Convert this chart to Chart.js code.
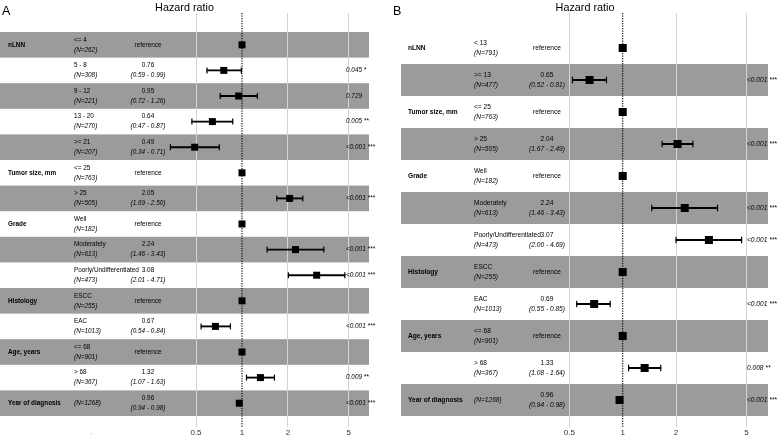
<!DOCTYPE html>
<html>
<head>
<meta charset="utf-8">
<script src="https://cdn.jsdelivr.net/npm/chart.js@4.4.1/dist/chart.umd.min.js"></script>
<style>
  body { margin: 0; background: #fff; width: 778px; height: 444px; overflow: hidden; position: relative; }
  canvas { position: absolute; top: 0; }
  #chartA { left: 0; }
  #chartB { left: 390px; }
</style>
</head>
<body>
<canvas id="chartA" width="389" height="444"></canvas>
<canvas id="chartB" width="388" height="444"></canvas>
<script>
/* ── Panel A data ── */
const aVars   = ['nLNN', '', '', '', '', 'Tumor size, mm', '', 'Grade', '', '', 'Histology', '', 'Age, years', '', 'Year of diagnosis'];
const aLevels = ['<= 4', '5 - 8', '9 - 12', '13 - 20', '>= 21', '<= 25', '> 25', 'Well', 'Moderately', 'Poorly/Undifferentiated', 'ESCC', 'EAC', '<= 68', '> 68', ''];
const aN      = [262, 308, 221, 270, 207, 763, 505, 182, 613, 473, 255, 1013, 901, 367, 1268];
const aHR     = [1, 0.76, 0.95, 0.64, 0.49, 1, 2.05, 1, 2.24, 3.08, 1, 0.67, 1, 1.32, 0.96];
const aLow    = [null, 0.59, 0.72, 0.47, 0.34, null, 1.69, null, 1.46, 2.01, null, 0.54, null, 1.07, 0.94];
const aHigh   = [null, 0.99, 1.26, 0.87, 0.71, null, 2.50, null, 3.43, 4.71, null, 0.84, null, 1.63, 0.98];
const aP      = ['', '0.045 *', '0.729', '0.005 **', '<0.001 ***', '', '<0.001 ***', '', '<0.001 ***', '<0.001 ***', '', '<0.001 ***', '', '0.009 **', '<0.001 ***'];

/* ── Panel B data ── */
const bVars   = ['nLNN', '', 'Tumor size, mm', '', 'Grade', '', '', 'Histology', '', 'Age, years', '', 'Year of diagnosis'];
const bLevels = ['< 13', '>= 13', '<= 25', '> 25', 'Well', 'Moderately', 'Poorly/Undifferentiated', 'ESCC', 'EAC', '<= 68', '> 68', ''];
const bN      = [791, 477, 763, 505, 182, 613, 473, 255, 1013, 901, 367, 1268];
const bHR     = [1, 0.65, 1, 2.04, 1, 2.24, 3.07, 1, 0.69, 1, 1.33, 0.96];
const bLow    = [null, 0.52, null, 1.67, null, 1.46, 2.00, null, 0.55, null, 1.08, 0.94];
const bHigh   = [null, 0.81, null, 2.49, null, 3.43, 4.69, null, 0.85, null, 1.64, 0.98];
const bP      = ['', '<0.001 ***', '', '<0.001 ***', '', '<0.001 ***', '<0.001 ***', '', '<0.001 ***', '', '0.008 **', '<0.001 ***'];

/* ── Axis ticks ── */
const xTicks = [0.5, 1, 2, 5];

const FAMILY   = '"Liberation Sans", Arial, Helvetica, sans-serif';
const BAND     = '#9b9b9b';
const PLOT_TOP = 13;
const PLOT_BOT = 427;

/* ── Build one forest panel ── */
function makeForest(cfg) {
  const canvas = document.getElementById(cfg.id);
  const W = canvas.width;
  const rows = cfg.hr.length;

  // scale limits so the log axis lands where the reference puts it
  const xMin = Math.pow(10, -cfg.one / cfg.decade);
  const xMax = Math.pow(10, (W - cfg.one) / cfg.decade);
  const yMin = -0.5 - (cfg.rowTop - PLOT_TOP) / cfg.rowH;
  const yMax = (PLOT_BOT - cfg.rowTop) / cfg.rowH - 0.5;

  const ci = [], caps = [], pts = [];
  cfg.hr.forEach((v, i) => {
    pts.push({ x: v, y: i });
    if (cfg.low[i] != null) {
      ci.push({ x: [cfg.low[i], cfg.high[i]], y: i });
      caps.push({ x: cfg.low[i], y: i }, { x: cfg.high[i], y: i });
    }
  });

  const f = (style) => `${style ? style + ' ' : ''}${cfg.font}px ${FAMILY}`;

  const forestPlugin = {
    id: 'forest' + cfg.letter,
    beforeDraw(chart) {
      const { ctx } = chart;
      const y = chart.scales.y;
      const h = Math.abs(y.getPixelForValue(1) - y.getPixelForValue(0));
      ctx.save();
      ctx.fillStyle = BAND;
      for (let i = 0; i < rows; i++) {
        const shaded = cfg.shadeOdd ? i % 2 === 1 : i % 2 === 0;
        if (!shaded) continue;
        const c = y.getPixelForValue(i);
        ctx.fillRect(cfg.band[0], c - h / 2, cfg.band[1] - cfg.band[0], h);
      }
      ctx.restore();
    },
    beforeDatasetsDraw(chart) {
      const { ctx, chartArea } = chart;
      const x = chart.scales.x, y = chart.scales.y;
      const cols = cfg.cols;

      // dotted reference line at HR = 1
      const x1 = x.getPixelForValue(1);
      ctx.save();
      ctx.strokeStyle = '#000';
      ctx.lineWidth = 1.1;
      ctx.setLineDash([1.2, 1.3]);
      ctx.beginPath();
      ctx.moveTo(x1, chartArea.top);
      ctx.lineTo(x1, chartArea.bottom);
      ctx.stroke();
      ctx.restore();

      ctx.save();
      ctx.fillStyle = '#000';
      ctx.textBaseline = 'middle';
      for (let i = 0; i < rows; i++) {
        const c = y.getPixelForValue(i);
        ctx.textAlign = 'left';
        if (cfg.vars[i]) {
          ctx.font = f('bold');
          ctx.fillText(cfg.vars[i], cols.name, c);
        }
        const nTxt = `(N=${cfg.n[i]})`;
        if (cfg.levels[i]) {
          ctx.font = f('');
          ctx.fillText(cfg.levels[i], cols.level, c - 5);
          ctx.font = f('italic');
          ctx.fillText(nTxt, cols.level, c + 5);
        } else {
          ctx.font = f('italic');
          ctx.fillText(nTxt, cols.level, c);
        }
        ctx.textAlign = 'center';
        if (cfg.low[i] == null) {
          ctx.font = f('');
          ctx.fillText('reference', cols.est, c);
        } else {
          ctx.font = f('');
          ctx.fillText(cfg.hr[i].toFixed(2), cols.est, c - 5);
          ctx.font = f('italic');
          ctx.fillText(`(${cfg.low[i].toFixed(2)} - ${cfg.high[i].toFixed(2)})`, cols.est, c + 5);
        }
        if (cfg.p[i]) {
          ctx.textAlign = 'left';
          ctx.font = f('italic');
          ctx.fillText(cfg.p[i], cols.p, c);
        }
      }
      ctx.restore();
    },
    afterDraw(chart) {
      const { ctx } = chart;
      ctx.save();
      ctx.fillStyle = '#000';
      ctx.textBaseline = 'alphabetic';
      ctx.font = `12.5px ${FAMILY}`;
      ctx.textAlign = 'left';
      ctx.fillText(cfg.letter, cfg.letterX, 14.5);
      ctx.font = `10.8px ${FAMILY}`;
      ctx.textAlign = 'center';
      ctx.fillText('Hazard ratio', cfg.titleX, 11);
      if (cfg.stray) {
        ctx.fillStyle = '#888';
        ctx.font = `6px ${FAMILY}`;
        ctx.fillText("'", cfg.stray[0], cfg.stray[1]);
      }
      ctx.restore();
    }
  };

  return new Chart(canvas.getContext('2d'), {
    type: 'scatter',
    data: {
      datasets: [
        {
          type: 'bar', indexAxis: 'y', data: ci,
          backgroundColor: '#000', borderWidth: 0, barThickness: 1.2, order: 3
        },
        {
          type: 'scatter', data: caps, pointStyle: 'line', rotation: 90,
          radius: cfg.cap, borderColor: '#000', borderWidth: 1.2, order: 2
        },
        {
          type: 'scatter', data: pts, pointStyle: 'rect',
          radius: cfg.pt, backgroundColor: '#000', borderWidth: 0, order: 1
        }
      ]
    },
    options: {
      responsive: false,
      animation: false,
      events: [],
      layout: { autoPadding: false, padding: { top: PLOT_TOP, left: 0, right: 0, bottom: 0 } },
      plugins: { legend: { display: false }, tooltip: { enabled: false } },
      scales: {
        x: {
          type: 'logarithmic',
          min: xMin, max: xMax, bounds: 'data', offset: false,
          afterBuildTicks: s => { s.ticks = xTicks.map(v => ({ value: v })); },
          afterFit: s => { s.height = 444 - PLOT_BOT; },
          border: { display: false },
          grid: {
            offset: false,
            drawTicks: false,
            lineWidth: 1,
            color: c => (c.tick && c.tick.value === 1) ? 'rgba(0,0,0,0)' : '#d3d3d3'
          },
          ticks: {
            padding: 1,
            color: '#333',
            font: { family: FAMILY, size: 8 },
            maxRotation: 0,
            autoSkip: false,
            callback: v => String(v)
          }
        },
        y: {
          type: 'linear', display: false, reverse: true, offset: false,
          grid: { offset: false },
          min: yMin, max: yMax, bounds: 'data'
        }
      }
    },
    plugins: [forestPlugin]
  });
}

makeForest({
  id: 'chartA', letter: 'A', letterX: 2, titleX: 184.5,
  vars: aVars, levels: aLevels, n: aN, hr: aHR, low: aLow, high: aHigh, p: aP,
  one: 242, decade: 152.8, rowTop: 32, rowH: 25.6,
  band: [0, 369], shadeOdd: false,
  cols: { name: 8, level: 74, est: 148, p: 346 },
  font: 6.4, pt: 4.95, cap: 3, stray: [91, 437]
});

makeForest({
  id: 'chartB', letter: 'B', letterX: 3, titleX: 195,
  vars: bVars, levels: bLevels, n: bN, hr: bHR, low: bLow, high: bHigh, p: bP,
  one: 232.7, decade: 177.1, rowTop: 32, rowH: 32,
  band: [11, 378], shadeOdd: true,
  cols: { name: 18, level: 84, est: 157, p: 357 },
  font: 6.6, pt: 5.7, cap: 3.3, stray: null
});
</script>
</body>
</html>
